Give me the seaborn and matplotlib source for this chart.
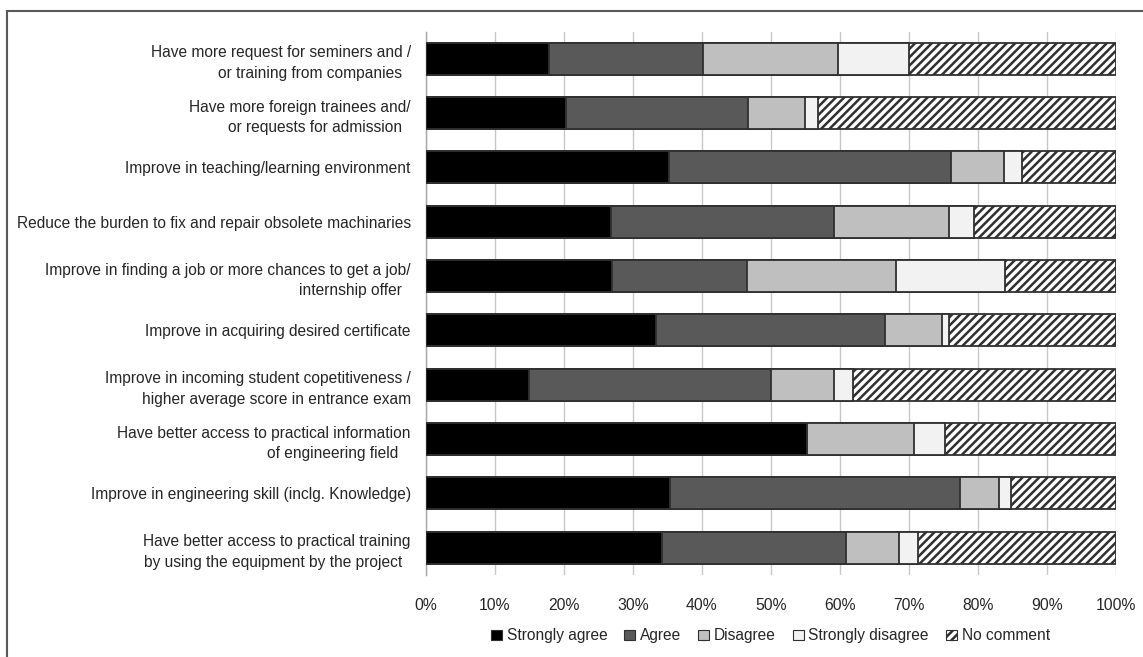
import numpy as np
import pandas as pd
import matplotlib
matplotlib.use("Agg")
import matplotlib.pyplot as plt
from matplotlib.patches import Patch, Rectangle
import seaborn as sns

# survey items, top to bottom
items = [
    "Have more request for seminers and /\nor training from companies  ",
    "Have more foreign trainees and/\nor requests for admission  ",
    "Improve in teaching/learning environment",
    "Reduce the burden to fix and repair obsolete machinaries",
    "Improve in finding a job or more chances to get a job/\ninternship offer  ",
    "Improve in acquiring desired certificate",
    "Improve in incoming student copetitiveness /\nhigher average score in entrance exam",
    "Have better access to practical information\nof engineering field   ",
    "Improve in engineering skill (inclg. Knowledge)",
    "Have better access to practical training\nby using the equipment by the project  ",
]

# shares in percent
strongly_agree = [17.8, 20.3, 35.2, 26.8, 27.0, 33.3, 14.9, 55.3, 35.4, 34.2]
agree = [22.3, 26.4, 40.9, 32.3, 19.6, 33.3, 35.1, 0.0, 42.1, 26.7]
disagree = [19.7, 8.3, 7.7, 16.7, 21.6, 8.3, 9.2, 15.4, 5.6, 7.7]
strongly_disagree = [10.2, 1.9, 2.7, 3.7, 15.8, 0.9, 2.7, 4.6, 1.8, 2.8]
no_comment = [30.0, 43.1, 13.5, 20.5, 16.0, 24.2, 38.1, 24.7, 15.1, 28.6]

categories = ["Strongly agree", "Agree", "Disagree", "Strongly disagree", "No comment"]
colors = ["#000000", "#595959", "#bfbfbf", "#f2f2f2", "#ffffff"]
hatches = [None, None, None, None, "////"]

df = pd.DataFrame({
    "item": items,
    "Strongly agree": strongly_agree,
    "Agree": agree,
    "Disagree": disagree,
    "Strongly disagree": strongly_disagree,
    "No comment": no_comment,
})
cum = df[categories].cumsum(axis=1)
cum["item"] = df["item"]

sns.set_style("white")
plt.rcParams["font.family"] = ["Liberation Sans", "DejaVu Sans"]
plt.rcParams["hatch.linewidth"] = 1.8
plt.rcParams["hatch.color"] = "black"

fig = plt.figure(figsize=(11.43, 6.57), dpi=100)
ax = fig.add_axes([0.3727, 0.125, 0.976 - 0.3727, 0.952 - 0.125])

# stacked bars: draw cumulative totals from the right-most segment down
for cat, col, hat in reversed(list(zip(categories, colors, hatches))):
    sns.barplot(data=cum, x=cat, y="item", orient="h", color=col,
                width=0.59, edgecolor="#303030", linewidth=1.3,
                hatch=hat, ax=ax, zorder=3)

ax.set_xlim(0, 100)
ax.set_xticks(np.arange(0, 101, 10))
ax.set_xticklabels([f"{v}%" for v in range(0, 101, 10)], fontsize=11.3)
ax.tick_params(axis="x", length=0, pad=17)
ax.tick_params(axis="y", length=0, pad=11, labelsize=11.2)
for lab in ax.get_yticklabels():
    lab.set_linespacing(1.45)
ax.set_xlabel("")
ax.set_ylabel("")
ax.grid(axis="x", color="#c8c8c8", linewidth=1, zorder=0)
for s in ["top", "right", "bottom"]:
    ax.spines[s].set_visible(False)
ax.spines["left"].set_color("#a6a6a6")
ax.spines["left"].set_linewidth(1)

handles = [Patch(facecolor=c, edgecolor="#303030", hatch=h, linewidth=0.8)
           for c, h in zip(colors, hatches)]
fig.legend(handles, categories, loc="center", bbox_to_anchor=(0.674, 0.032),
           ncol=5, frameon=False, fontsize=11.2, handlelength=0.7,
           handleheight=0.7, handletextpad=0.3, columnspacing=1.1)

# outer frame around the chart
fig.patches.append(Rectangle((7 / 1143, -0.1), 1.2, 1 - 11 / 657 + 0.1,
                             transform=fig.transFigure, fill=False,
                             edgecolor="#595959", linewidth=1.5))

fig.savefig("out.png", dpi=100)
